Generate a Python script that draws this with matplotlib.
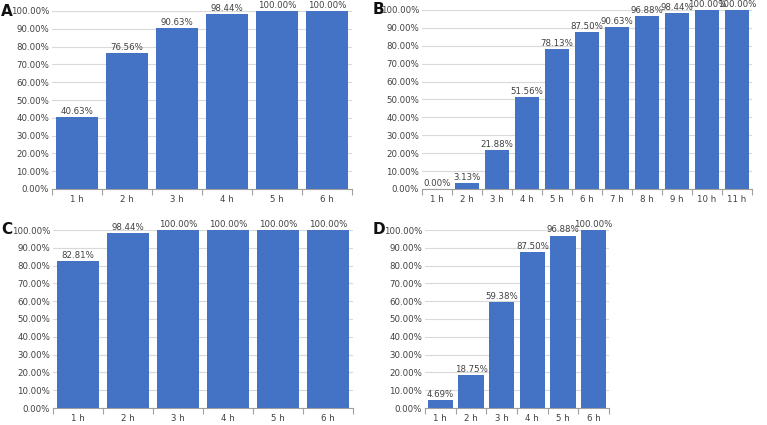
import matplotlib
matplotlib.use("Agg")
import matplotlib.pyplot as plt
import numpy as np
from matplotlib.ticker import FixedLocator

plt.rcParams['font.family'] = ['DejaVu Sans']

cats_a = ["1 h", "2 h", "3 h", "4 h", "5 h", "6 h"]
vals_a = [40.63, 76.56, 90.63, 98.44, 100.00, 100.00]

cats_b = ["1 h", "2 h", "3 h", "4 h", "5 h", "6 h", "7 h", "8 h", "9 h", "10 h", "11 h"]
vals_b = [0.00, 3.13, 21.88, 51.56, 78.13, 87.50, 90.63, 96.88, 98.44, 100.00, 100.00]

cats_c = ["1 h", "2 h", "3 h", "4 h", "5 h", "6 h"]
vals_c = [82.81, 98.44, 100.00, 100.00, 100.00, 100.00]

cats_d = ["1 h", "2 h", "3 h", "4 h", "5 h", "6 h"]
vals_d = [4.69, 18.75, 59.38, 87.50, 96.88, 100.00]

panel_labels = ["A", "B", "C", "D"]

W, H = 767, 425
fig = plt.figure(figsize=(W / 100, H / 100), dpi=100)

def rect(l, r, b, t):
    return [l / W, (H - b) / H, (r - l) / W, (b - t) / H]

BAR = "#4472C4"
FS = 6.2
TXT = "#404040"

def panel(r, cats, vals, label, lab_xy, width):
    ax = fig.add_axes(r)
    x = np.arange(len(cats))
    ax.bar(x, vals, width=width, color=BAR, zorder=3)
    ax.set_xlim(-0.5, len(cats) - 0.5)
    ax.set_ylim(0, 100)
    ax.set_yticks(np.arange(0, 101, 10))
    ax.set_yticklabels([f"{v:.2f}%" for v in np.arange(0, 101, 10)], fontsize=FS, color=TXT)
    ax.set_xticks(x)
    ax.set_xticklabels(cats, fontsize=FS, color=TXT)
    ax.xaxis.set_minor_locator(FixedLocator(np.arange(-0.5, len(cats), 1.0)))
    ax.tick_params(axis="x", which="major", length=0, pad=4)
    ax.tick_params(axis="x", which="minor", length=4, color="#a0a0a0", width=0.8, direction="out")
    ax.tick_params(axis="y", length=0, pad=2)
    ax.grid(axis="y", color="#d9d9d9", linewidth=0.8, zorder=0)
    for s in ["top", "right", "left"]:
        ax.spines[s].set_visible(False)
    ax.spines["bottom"].set_color("#a0a0a0")
    ax.spines["bottom"].set_linewidth(0.8)
    ax.spines["bottom"].set_zorder(4)
    for xi, v in zip(x, vals):
        ax.annotate(f"{v:.2f}%", (xi, v), xytext=(0, 2.2), textcoords="offset points",
                    ha="center", va="baseline", fontsize=FS, color=TXT, zorder=5,
                    annotation_clip=False)
    fig.text(lab_xy[0] / W, 1 - lab_xy[1] / H, label, fontsize=11, fontweight="bold",
             ha="left", va="center", color="#111111")
    return ax

panel(rect(52, 352, 189, 11), cats_a, vals_a, panel_labels[0], (1, 11), 0.84)
panel(rect(422, 752, 189, 10), cats_b, vals_b, panel_labels[1], (373, 10), 0.83)
panel(rect(53, 353, 408, 230), cats_c, vals_c, panel_labels[2], (1, 229), 0.84)
panel(rect(425, 609, 408, 230), cats_d, vals_d, panel_labels[3], (373, 229), 0.83)

fig.savefig("out.png", dpi=100)
